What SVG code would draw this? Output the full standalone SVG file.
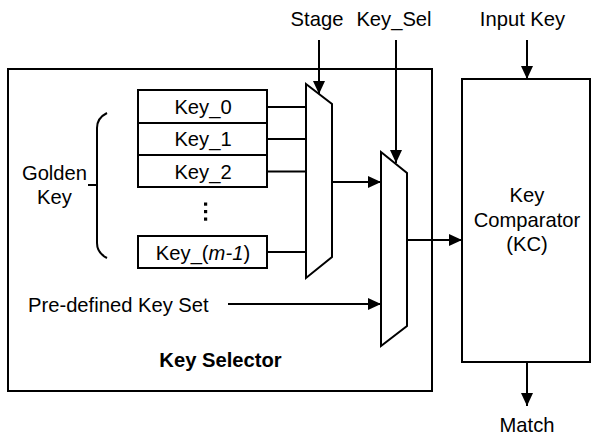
<svg xmlns="http://www.w3.org/2000/svg" width="591" height="436" viewBox="0 0 591 436">
<defs>
<marker id="arr" markerUnits="userSpaceOnUse" markerWidth="14" markerHeight="12" refX="13" refY="6" orient="auto">
<path d="M0,0 L13,6 L0,12 z" fill="#000"/>
</marker>
<style>
.box{fill:#fff;stroke:#000;stroke-width:2}
.ln{fill:none;stroke:#000;stroke-width:2}
.ar{fill:none;stroke:#000;stroke-width:2;marker-end:url(#arr)}
text{font-family:"Liberation Sans",Arial,sans-serif;font-size:20.2px;fill:#000}
.c{text-anchor:middle}
.b{font-weight:bold}
</style>
</defs>
<rect width="591" height="436" fill="#fff"/>
<g id="key-selector">
<rect class="box" x="8" y="69" width="424" height="322"/>
<text class="c b" x="220.5" y="367">Key Selector</text>
</g>
<g id="golden-key">
<path class="ln" d="M107,113 Q97,118 97,128 L97,243 Q97,253 107,258 M97,185 L88,185"/>
<text class="c" x="54.5" y="180">Golden</text>
<text class="c" x="54.5" y="204">Key</text>
</g>
<g id="key0"><rect class="box" x="138" y="90" width="129" height="33"/><text class="c" x="203" y="114">Key_0</text></g>
<g id="key1"><rect class="box" x="138" y="123" width="129" height="32"/><text class="c" x="203" y="146">Key_1</text></g>
<g id="key2"><rect class="box" x="138" y="155" width="129" height="32"/><text class="c" x="203" y="178.5">Key_2</text></g>
<g id="dots" fill="#000"><rect x="204" y="202.5" width="3.2" height="3.2"/><rect x="204" y="210" width="3.2" height="3.2"/><rect x="204" y="217.5" width="3.2" height="3.2"/></g>
<g id="keym1"><rect class="box" x="138" y="236" width="129" height="32"/><text class="c" x="203" y="260">Key_(<tspan font-style="italic">m-1</tspan>)</text></g>
<g id="predefined"><text x="28" y="312">Pre-defined Key Set</text></g>
<g id="mux1"><polygon class="box" points="306,84 332,104 332,257 306,278"/></g>
<g id="mux2"><polygon class="box" points="381,152 407,173 407,326 381,346"/></g>
<g id="kc">
<rect class="box" x="462" y="79" width="128" height="283"/>
<text class="c" x="527" y="202">Key</text>
<text class="c" x="527" y="226.5">Comparator</text>
<text class="c" x="527" y="251">(KC)</text>
</g>
<g id="labels">
<text class="c" x="317" y="26">Stage</text>
<text class="c" x="394" y="26">Key_Sel</text>
<text class="c" x="522.5" y="26">Input Key</text>
<text class="c" x="527" y="432">Match</text>
</g>
<g id="connectors">
<path class="ln" d="M267,107 H306 M267,139 H306 M267,171.5 H306 M267,252 H306"/>
<path class="ar" d="M319,40 V94"/>
<path class="ar" d="M396,40 V163"/>
<path class="ar" d="M332,182 H381"/>
<path class="ar" d="M228,304 H381"/>
<path class="ar" d="M407,240 H462"/>
<path class="ar" d="M527,40 V79"/>
<path class="ar" d="M527,362 V406"/>
</g>
</svg>
